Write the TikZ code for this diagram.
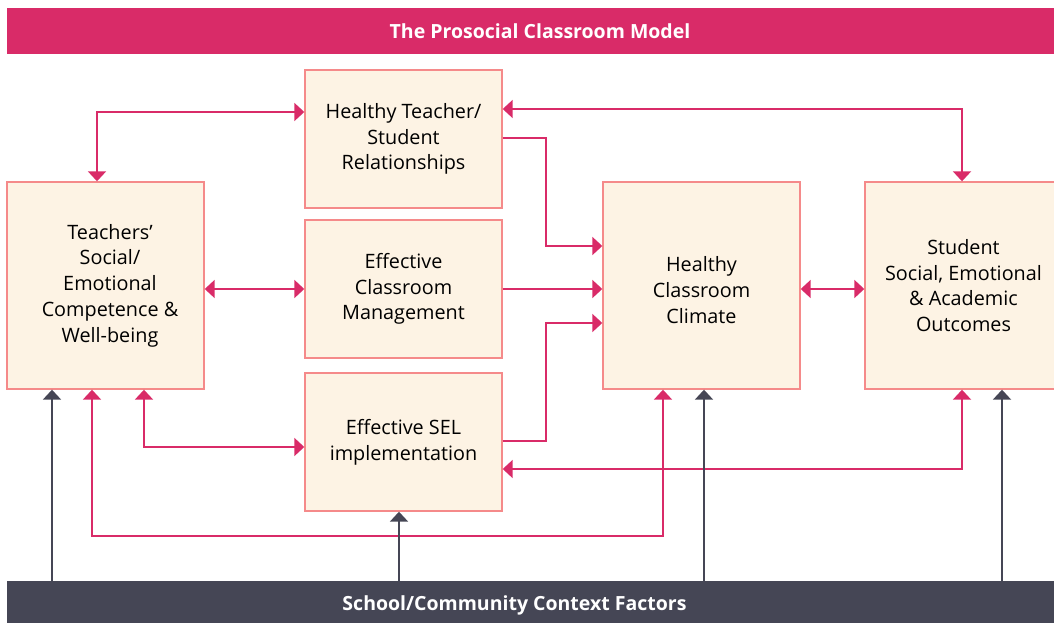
\documentclass[tikz,border=0pt]{standalone}
\usepackage{fontspec}
\setmainfont{Open Sans}
\usetikzlibrary{arrows.meta}
\definecolor{pk}{HTML}{D92B68}
\definecolor{bx}{HTML}{FDF3E4}
\definecolor{bd}{HTML}{F58A8A}
\definecolor{dk}{HTML}{454655}
\begin{document}
\begin{tikzpicture}[x=1pt,y=-1pt,
  box/.style={draw=bd,fill=bx,line width=1.4pt,align=center,inner sep=0pt,minimum width=197pt,
    font=\fontsize{19.8}{25.8}\selectfont},
  sbox/.style={box,minimum height=138pt},
  tbox/.style={box,minimum height=207pt},
  pa/.style={draw=pk,line width=2pt,-{Triangle[width=18pt,length=10pt]}},
  da/.style={draw=pk,line width=2pt,{Triangle[width=18pt,length=10pt]}-{Triangle[width=18pt,length=10pt]}},
  ga/.style={draw=dk,line width=2pt,-{Triangle[width=18pt,length=10pt]}},
  bar/.style={inner sep=0pt,anchor=north west,minimum width=1047pt},
  bartext/.style={text=white,font=\fontsize{19.5}{22}\selectfont\bfseries}]
\useasboundingbox (0,0) rectangle (1054,623);
\begin{scope}
\clip (0,0) rectangle (1054,623);
% bars
\node[bar,fill=pk,minimum height=46pt] (top) at (7,8) {};
\node[bartext] (toptxt) at (540,31) {The Prosocial Classroom Model};
\node[bar,fill=dk,minimum height=50pt] (scf) at (7,581) {};
\node[bartext] (scftxt) at (514.5,605) {School/Community Context Factors};
% boxes
\node[tbox] (tsc) at (105.5,285.5) {\hspace*{9pt}Teachers’\\\hspace*{9pt}Social/\\\hspace*{9pt}Emotional\\\hspace*{9pt}Competence \&\\\hspace*{9pt}Well-being};
\node[sbox] (ht) at (403.5,139) {Healthy Teacher/\\Student\\Relationships};
\node[sbox] (ecm) at (403.5,289) {Effective\\Classroom\\Management};
\node[sbox] (sel) at (403.5,442) {Effective SEL\\implementation};
\node[tbox] (hcc) at (701.5,285.5) {\\[-2pt]Healthy\\Classroom\\Climate};
\node[tbox] (sso) at (963.5,285.5) {Student\\Social, Emotional\\\& Academic\\Outcomes};
% coordinates
\coordinate (c1) at (97,112);
\coordinate (c2) at (144,447);
\coordinate (c3) at (92,536);
\coordinate (c4) at (663,536);
\coordinate (c5) at (546,138);
\coordinate (c6) at (546,246);
\coordinate (c7) at (546,441);
\coordinate (c8) at (546,323);
\coordinate (c9) at (0,289);
\coordinate (c10) at (962,109);
\coordinate (c11) at (962,469);
% pink connectors
\draw[da] (c1 |- tsc.north) -- (c1) -- (c1 -| ht.west);
\draw[da] (c9 -| tsc.east) -- (c9 -| ecm.west);
\draw[da] (c2 |- tsc.south) -- (c2) -- (c2 -| sel.west);
\draw[da] (c3 |- tsc.south) -- (c3) -- (c4) -- (c4 |- hcc.south);
\draw[pa] (c5 -| ht.east) -- (c5) -- (c6) -- (c6 -| hcc.west);
\draw[pa] (c9 -| ecm.east) -- (c9 -| hcc.west);
\draw[pa] (c7 -| sel.east) -- (c7) -- (c8) -- (c8 -| hcc.west);
\draw[da] (c9 -| hcc.east) -- (c9 -| sso.west);
\draw[da] (c10 -| ht.east) -- (c10) -- (c10 |- sso.north);
\draw[da] (c11 |- sso.south) -- (c11) -- (c11 -| sel.east);
% gray connectors
\coordinate (g1) at (52,581);
\coordinate (g2) at (399,581);
\coordinate (g3) at (704,581);
\coordinate (g4) at (1002,581);
\draw[ga] (g1) -- (g1 |- tsc.south);
\draw[ga] (g2) -- (g2 |- sel.south);
\draw[ga] (g3) -- (g3 |- hcc.south);
\draw[ga] (g4) -- (g4 |- sso.south);
\end{scope}
\end{tikzpicture}
\end{document}
